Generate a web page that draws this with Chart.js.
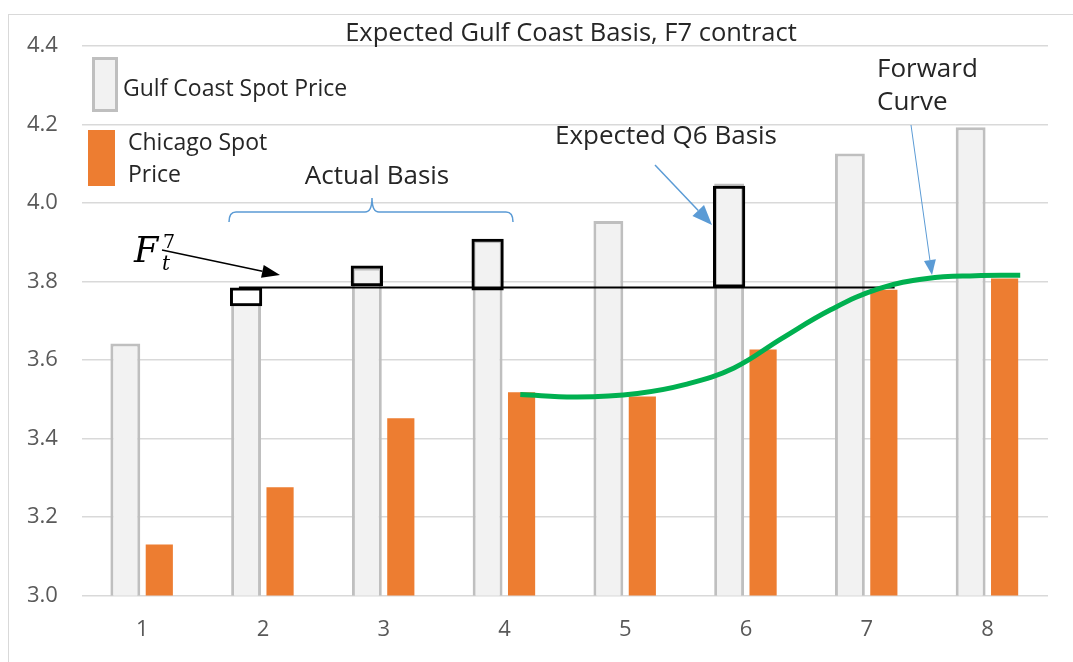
<!DOCTYPE html>
<html>
<head>
<meta charset="utf-8">
<script src="https://cdn.jsdelivr.net/npm/chart.js@4.4.1/dist/chart.umd.min.js"></script>
<style>
  html, body { margin: 0; padding: 0; background: #fff; }
  #wrap { position: relative; width: 1073px; height: 662px; }
</style>
</head>
<body>
<div id="wrap"><canvas id="chart"></canvas></div>
<script>
// Dati
const periods = ['1', '2', '3', '4', '5', '6', '7', '8'];
const gulfCoastSpot = [3.642, 3.745, 3.835, 3.905, 3.954, 4.05, 4.126, 4.193];
const chicagoSpot = [3.13, 3.276, 3.452, 3.518, 3.507, 3.627, 3.779, 3.808];
// basis: [basso, alto] per i periodi evidenziati
const basisBoxes = [null, [3.737, 3.785], [3.788, 3.841], [3.777, 3.909], null, [3.785, 4.044], null, null];
const f7Level = [{ x: 1.8, y: 3.785 }, { x: 7.23, y: 3.785 }];
const forwardCurve = [
    { x: 4.13, y: 3.512 }, { x: 4.6, y: 3.506 }, { x: 5.1, y: 3.515 }, { x: 5.5, y: 3.538 },
    { x: 5.9, y: 3.58 }, { x: 6.3, y: 3.656 }, { x: 6.7, y: 3.728 }, { x: 7.1, y: 3.782 },
    { x: 7.5, y: 3.808 }, { x: 7.9, y: 3.815 }, { x: 8.27, y: 3.816 }
];
const yMin = 3.0, yMax = 4.4, yStep = 0.2;

const THEME = {
    font: "'Open Sans', Lato, sans-serif",
    text: '#262626',
    tick: '#595959',
    grid: '#d9d9d9',
    grayFill: '#f2f2f2',
    grayBorder: '#bfbfbf',
    orange: '#ed7d31',
    green: '#00b050',
    blue: '#5b9bd5'
};

const drawArrow = (ctx, x1, y1, x2, y2, color, width, headLen, headW) => {
    const ang = Math.atan2(y2 - y1, x2 - x1);
    const bx = x2 - headLen * Math.cos(ang), by = y2 - headLen * Math.sin(ang);
    ctx.save();
    ctx.strokeStyle = color;
    ctx.fillStyle = color;
    ctx.lineWidth = width;
    ctx.beginPath();
    ctx.moveTo(x1, y1);
    ctx.lineTo(bx, by);
    ctx.stroke();
    ctx.beginPath();
    ctx.moveTo(x2, y2);
    ctx.lineTo(bx + headW / 2 * Math.sin(ang), by - headW / 2 * Math.cos(ang));
    ctx.lineTo(bx - headW / 2 * Math.sin(ang), by + headW / 2 * Math.cos(ang));
    ctx.closePath();
    ctx.fill();
    ctx.restore();
};

// Cornice, titolo, legenda e annotazioni disegnate a mano
const decorations = {
    id: 'decorations',
    beforeDraw(chart) {
        const ctx = chart.ctx;
        ctx.save();
        ctx.strokeStyle = THEME.grid;
        ctx.lineWidth = 1;
        ctx.strokeRect(8.5, 14.5, 1200, 800);
        ctx.restore();
    },
    afterDraw(chart) {
        const ctx = chart.ctx;
        ctx.save();
        // titolo
        ctx.fillStyle = THEME.text;
        ctx.textAlign = 'center';
        ctx.textBaseline = 'alphabetic';
        ctx.font = `25.5px ${THEME.font}`;
        ctx.fillText('Expected Gulf Coast Basis, F7 contract', 571, 41);

        // legenda
        ctx.fillStyle = THEME.grayFill;
        ctx.fillRect(92, 57, 26, 55);
        ctx.strokeStyle = THEME.grayBorder;
        ctx.lineWidth = 3;
        ctx.strokeRect(93.5, 58.5, 23, 52);
        ctx.fillStyle = THEME.orange;
        ctx.fillRect(88, 130, 27, 56);

        ctx.fillStyle = THEME.text;
        ctx.textBaseline = 'middle';
        ctx.textAlign = 'left';
        ctx.font = `23px ${THEME.font}`;
        ctx.fillText('Gulf Coast Spot Price', 123, 89);
        ctx.fillText('Chicago Spot', 128, 143);
        ctx.fillText('Price', 128, 175);

        // testi annotazioni
        ctx.font = `26px ${THEME.font}`;
        ctx.textAlign = 'center';
        ctx.fillText('Actual Basis', 377, 177);
        ctx.fillText('Expected Q6 Basis', 666, 137);
        ctx.textAlign = 'left';
        ctx.fillText('Forward', 877, 70);
        ctx.fillText('Curve', 877, 103);

        // graffa "Actual Basis"
        ctx.strokeStyle = THEME.blue;
        ctx.lineWidth = 1.5;
        ctx.beginPath();
        ctx.moveTo(229, 222);
        ctx.quadraticCurveTo(229, 212, 236, 212);
        ctx.lineTo(365, 212);
        ctx.quadraticCurveTo(372, 212, 372, 198);
        ctx.quadraticCurveTo(372, 212, 379, 212);
        ctx.lineTo(506, 212);
        ctx.quadraticCurveTo(513, 212, 513, 222);
        ctx.stroke();

        // F_t^7
        ctx.fillStyle = '#000';
        ctx.textBaseline = 'alphabetic';
        ctx.font = "italic 35px 'DejaVu Serif', serif";
        ctx.fillText('F', 134, 262);
        ctx.font = "italic 20px 'DejaVu Serif', serif";
        ctx.fillText('t', 162, 270);
        ctx.font = "19px 'DejaVu Serif', serif";
        ctx.fillText('7', 163, 248);

        drawArrow(ctx, 162, 250, 280, 275, '#000', 1.5, 18, 13);
        drawArrow(ctx, 655, 165, 712, 225, THEME.blue, 1.5, 20, 16);
        drawArrow(ctx, 911, 125, 932, 275, THEME.blue, 1, 15, 12);
        ctx.restore();
    }
};

new Chart(document.getElementById('chart'), {
    type: 'bar',
    data: {
        labels: periods,
        datasets: [
            {
                type: 'line',
                data: forwardCurve,
                xAxisID: 'xl',
                borderColor: THEME.green,
                borderWidth: 5,
                pointRadius: 0,
                tension: 0.4,
                order: 0
            },
            {
                data: basisBoxes,
                stack: 'gc',
                backgroundColor: 'rgba(255,255,255,0)',
                borderColor: '#000',
                borderWidth: 3,
                borderSkipped: false,
                barPercentage: 0.95,
                categoryPercentage: 1.125,
                order: 1
            },
            {
                type: 'line',
                data: f7Level,
                xAxisID: 'xl',
                borderColor: '#000',
                borderWidth: 2,
                pointRadius: 0,
                order: 2
            },
            {
                label: 'Gulf Coast Spot Price',
                data: gulfCoastSpot,
                stack: 'gc',
                backgroundColor: THEME.grayFill,
                borderColor: THEME.grayBorder,
                borderWidth: 3,
                borderSkipped: false,
                barPercentage: 0.88,
                categoryPercentage: 1.125,
                order: 3
            },
            {
                label: 'Chicago Spot Price',
                data: chicagoSpot,
                stack: 'chi',
                backgroundColor: THEME.orange,
                barPercentage: 0.8,
                categoryPercentage: 1.125,
                order: 4
            }
        ]
    },
    options: {
        responsive: true,
        maintainAspectRatio: false,
        animation: false,
        layout: { padding: { left: 3, right: 25, top: 46, bottom: -2 } },
        scales: {
            x: {
                grid: { display: false, drawTicks: false },
                border: { display: false },
                ticks: { color: THEME.tick, padding: 21, font: { family: THEME.font, size: 22 } }
            },
            xl: {
                type: 'linear',
                display: false,
                offset: false,
                min: 0.5,
                max: 8.5
            },
            y: {
                min: yMin,
                max: yMax,
                stacked: false,
                grid: { color: THEME.grid, drawTicks: false, lineWidth: 1.5 },
                border: { display: false },
                ticks: {
                    stepSize: yStep,
                    color: THEME.tick,
                    padding: 24,
                    font: { family: THEME.font, size: 22 },
                    callback: v => v.toFixed(1)
                }
            }
        },
        plugins: {
            legend: { display: false },
            tooltip: { enabled: false },
            title: { display: false }
        }
    },
    plugins: [decorations]
});
</script>
</body>
</html>
